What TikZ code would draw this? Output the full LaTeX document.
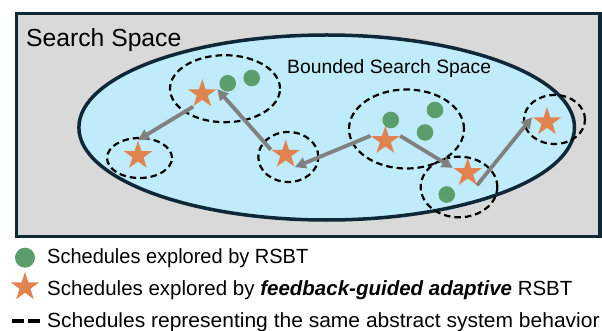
\documentclass[tikz,border=0pt]{standalone}
\usepackage{fontspec}
\setmainfont{Liberation Sans}
\usetikzlibrary{shapes.geometric,arrows.meta}
\definecolor{bggray}{HTML}{D9D9D9}
\definecolor{navyline}{HTML}{0E2837}
\definecolor{skyfill}{HTML}{C0EBFA}
\definecolor{starorange}{HTML}{E0834F}
\definecolor{dotgreen}{HTML}{5B9D6B}
\definecolor{arrowgray}{HTML}{808080}
\begin{document}
\begin{tikzpicture}[x=1pt,y=-1pt,
  starnode/.style={star, star points=5, star point ratio=2.618, fill=starorange, draw=none, minimum size=30pt, inner sep=0pt},
  dotnode/.style={circle, fill=dotgreen, draw=none, minimum size=16.6pt, inner sep=0pt},
  groupring/.style={ellipse, draw=black, dash pattern=on 6.5pt off 4pt, line width=2.2pt, inner sep=0pt},
  moveline/.style={draw=arrowgray, line width=3.8pt, -{Triangle[length=11pt,width=11pt]}},
  legtext/.style={anchor=base west, inner sep=0pt, font=\fontsize{20.5}{24}\selectfont},
]
\useasboundingbox (0,0) rectangle (602,331);
% search space
\node[draw=navyline, line width=3.5pt, fill=bggray, minimum width=583.5pt, minimum height=223pt, inner sep=0pt] (space) at (308.25,125) {};
\node[anchor=base west, inner sep=0pt, font=\fontsize{24.7}{29}\selectfont] (spacelabel) at (26,47) {Search Space};
% bounded search space
\node[ellipse, draw=navyline, line width=3.5pt, fill=skyfill, minimum width=495.6pt, minimum height=185pt, inner sep=0pt] (bounded) at (326.7,127.5) {};
\node[anchor=base west, inner sep=0pt, font=\fontsize{19.3}{23}\selectfont] (boundedlabel) at (287,74) {Bounded Search Space};
% groups
\node[groupring, minimum width=65pt, minimum height=40pt] (g1) at (139.5,158) {};
\node[groupring, minimum width=110pt, minimum height=67pt] (g2) at (225,88.7) {};
\node[groupring, minimum width=60pt, minimum height=50pt] (g3) at (288.3,157) {};
\node[groupring, minimum width=115pt, minimum height=79pt] (g4) at (406.5,129) {};
\node[groupring, minimum width=76.6pt, minimum height=60.6pt] (g5) at (459,187) {};
\node[groupring, minimum width=61pt, minimum height=49pt] (g6) at (554.5,119.5) {};
% RSBT schedules
\node[dotnode] (d1) at (227.7,83.3) {};
\node[dotnode] (d2) at (251.7,78) {};
\node[dotnode] (d3) at (390.7,120) {};
\node[dotnode] (d4) at (435,110) {};
\node[dotnode] (d5) at (425,132.5) {};
\node[dotnode] (d6) at (446.7,194.5) {};
% adaptive schedules
\node[starnode] (s1) at (138,155.7) {};
\node[starnode] (s2) at (202.3,94) {};
\node[starnode] (s3) at (285.7,154.5) {};
\node[starnode] (s4) at (385.3,140.7) {};
\node[starnode] (s5) at (467.7,172.7) {};
\node[starnode] (s6) at (547,122) {};
% moves
\draw[moveline] (s2.outer point 3) -- (s1.outer point 1);
\draw[moveline] (s3.outer point 2) -- (s2.outer point 5);
\draw[moveline] (s4.outer point 2) -- (s3.outer point 4);
\draw[moveline] (s4.outer point 5) -- (s5.outer point 2);
\draw[moveline] (s5.outer point 4) -- (s6.outer point 2);
% legend
\node[circle, fill=dotgreen, minimum size=20pt, inner sep=0pt] (legdot) at (25,257.7) {};
\node[legtext] (legdottext) at (47,263) {\scalebox{0.975}[1]{Schedules explored by RSBT}};
\node[starnode] (legstar) at (25,287) {};
\node[legtext] (legstartext) at (47,295) {Schedules explored by \textbf{\textit{feedback-guided adaptive}} RSBT};
\coordinate (legdashA) at (12,321);
\coordinate (legdashB) at (39.5,321);
\draw[black, line width=4pt, dash pattern=on 11.5pt off 4.5pt] (legdashA) -- (legdashB);
\node[legtext] (legdashtext) at (47,327) {\scalebox{1.025}[1]{Schedules representing the same abstract system behavior}};
\end{tikzpicture}
\end{document}
